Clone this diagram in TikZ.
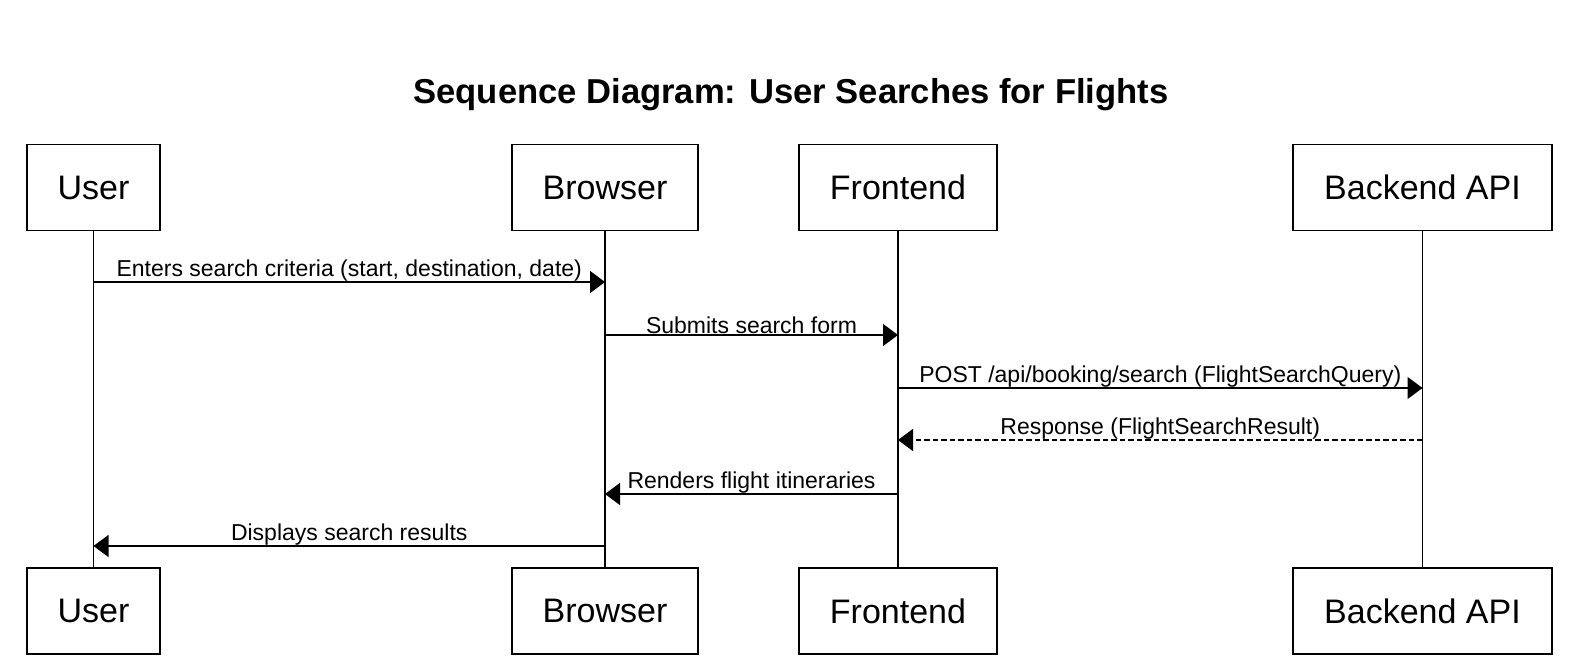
\documentclass[tikz,border=0pt]{standalone}
\usepackage{fontspec}
\setmainfont{Liberation Sans}
\usetikzlibrary{arrows.meta, positioning}

\begin{document}
\begin{tikzpicture}[x=1pt, y=-1pt,
    actor/.style={draw, line width=1.3pt, minimum height=86pt, inner sep=0pt,
        font=\fontsize{34}{40}\selectfont},
    lifeline/.style={line width=1.3pt},
    msg/.style={line width=1.3pt, -{Triangle[length=15pt, width=22pt]}},
    reply/.style={msg, dash pattern=on 5.5pt off 3pt},
    lbl/.style={font=\fontsize{23}{27}\selectfont, inner sep=0pt, above=0.5pt}]
    \useasboundingbox (0,0) rectangle (1586,668);

    % Title
    \node[font=\bfseries\fontsize{34.6}{40}\selectfont] (title) at (791,95)
        {Sequence Diagram: User Searches for Flights};

    % Participants, top and bottom
    \node[actor, minimum width=133pt] (userT) at (93.5,187.5) {User};
    \node[actor, minimum width=186pt] (browserT) at (605,187.5) {Browser};
    \node[actor, minimum width=198pt] (frontT) at (898,187.5) {Frontend};
    \node[actor, minimum width=259pt] (backT) at (1422.5,187.5) {Backend API};

    \node[actor, minimum width=133pt] (userB) at (93.5,611) {User};
    \node[actor, minimum width=186pt] (browserB) at (605,611) {Browser};
    \node[actor, minimum width=198pt] (frontB) at (898,611) {Frontend};
    \node[actor, minimum width=259pt] (backB) at (1422.5,611) {Backend API};

    % Lifelines
    \draw[lifeline] (userT) -- (userB);
    \draw[lifeline] (browserT) -- (browserB);
    \draw[lifeline] (frontT) -- (frontB);
    \draw[lifeline] (backT) -- (backB);

    % Message rows
    \coordinate (r1) at (0,282);
    \coordinate (r2) at (0,335);
    \coordinate (r3) at (0,388);
    \coordinate (r4) at (0,440);
    \coordinate (r5) at (0,494);
    \coordinate (r6) at (0,546);

    \draw[msg] (userT |- r1) -- node[lbl] {Enters search criteria (start, destination, date)} (browserT |- r1);
    \draw[msg] (browserT |- r2) -- node[lbl] {Submits search form} (frontT |- r2);
    \draw[msg] (frontT |- r3) -- node[lbl] {POST /api/booking/search (FlightSearchQuery)} (backT |- r3);
    \draw[reply] (backT |- r4) -- node[lbl] {Response (FlightSearchResult)} (frontT |- r4);
    \draw[msg] (frontT |- r5) -- node[lbl] {Renders flight itineraries} (browserT |- r5);
    \draw[msg] (browserT |- r6) -- node[lbl] {Displays search results} (userT |- r6);
\end{tikzpicture}
\end{document}
